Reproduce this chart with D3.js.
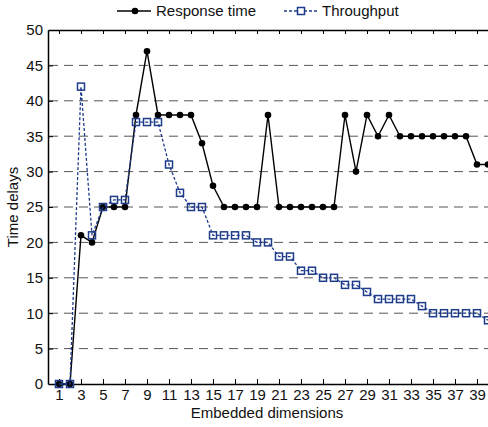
<!DOCTYPE html>
<html>
<head>
<meta charset="utf-8">
<script src="https://cdn.jsdelivr.net/npm/d3@7"></script>
<style>
  body { margin: 0; background: #fff; }
  svg { display: block; font-family: "Liberation Sans", Arial, sans-serif; }
</style>
</head>
<body>
<div class="chart"></div>
<script>
// embedded dimension 1..40
var dims = [1,2,3,4,5,6,7,8,9,10,11,12,13,14,15,16,17,18,19,20,
            21,22,23,24,25,26,27,28,29,30,31,32,33,34,35,36,37,38,39,40];

// response time (black, dots)
var responseTime = [0,0,21,20,25,25,25,38,47,38,38,38,38,34,28,25,25,25,25,38,
                    25,25,25,25,25,25,38,30,38,35,38,35,35,35,35,35,35,35,31,31];

// throughput (blue, dashed, squares)
var throughput = [0,0,42,21,25,26,26,37,37,37,31,27,25,25,21,21,21,21,20,20,
                  18,18,16,16,15,15,14,14,13,12,12,12,12,11,10,10,10,10,10,9];

var xTicks = [1,3,5,7,9,11,13,15,17,19,21,23,25,27,29,31,33,35,37,39];
var yTicks = [0,5,10,15,20,25,30,35,40,45,50];
var seriesNames = ["Response time", "Throughput"];

var w = 488, h = 427;
// plot box (note: "top" is taken by window.top, so use pTop)
var pLeft = 48, pRight = 488, pTop = 30, pBottom = 384;
var blue = "#1f3c8a";

var svg = d3.select(".chart").append("svg")
  .attr("width", w)
  .attr("height", h);

var x = d3.scaleLinear().domain([0, 40]).range([pLeft, pRight]);
var y = d3.scaleLinear().domain([0, 50]).range([pBottom, pTop]);

// dashed horizontal grid
svg.append("g").selectAll("line")
  .data(yTicks.filter(function(d) { return d > 0 && d < 50; }))
  .enter().append("line")
  .attr("x1", pLeft + 1)
  .attr("x2", pRight)
  .attr("y1", function(d) { return y(d); })
  .attr("y2", function(d) { return y(d); })
  .attr("stroke", "#555")
  .attr("stroke-width", 1)
  .attr("stroke-dasharray", "9,6");

// axes, ticks point inward like matlab
var xAxis = svg.append("g")
  .attr("transform", "translate(0," + pBottom + ")")
  .call(d3.axisBottom(x).tickValues(xTicks).tickSizeInner(-5).tickSizeOuter(0).tickPadding(5));

var topAxis = svg.append("g")
  .attr("transform", "translate(0," + pTop + ")")
  .call(d3.axisTop(x).tickValues(xTicks).tickSizeInner(-4).tickSizeOuter(0).tickFormat(""));

var yAxis = svg.append("g")
  .attr("transform", "translate(" + pLeft + ",0)")
  .call(d3.axisLeft(y).tickValues(yTicks).tickSizeInner(-5).tickSizeOuter(0).tickPadding(5));

svg.selectAll(".domain").attr("stroke", "#000").attr("stroke-width", 1.5);
svg.selectAll(".tick line").attr("stroke", "#000");
svg.selectAll(".tick text").attr("font-size", 15).attr("fill", "#111")
  .attr("font-family", "Liberation Sans, Arial, sans-serif");
// no tick marks in the corners
yAxis.selectAll(".tick").filter(function(d) { return d === 0 || d === 50; }).select("line").remove();

// axis titles
svg.append("text")
  .attr("x", 267).attr("y", 418)
  .attr("text-anchor", "middle")
  .attr("font-size", 15)
  .attr("fill", "#111")
  .text("Embedded dimensions");

svg.append("text")
  .attr("transform", "translate(18," + ((pTop + pBottom) / 2) + ") rotate(-90)")
  .attr("text-anchor", "middle")
  .attr("font-size", 15)
  .attr("fill", "#111")
  .text("Time delays");

// lines
var respData = dims.map(function(d, i) { return {x: d, y: responseTime[i]}; });
var thrData = dims.map(function(d, i) { return {x: d, y: throughput[i]}; });

var line = d3.line()
  .x(function(d) { return x(d.x); })
  .y(function(d) { return y(d.y); });

svg.append("path")
  .datum(respData)
  .attr("d", line)
  .attr("fill", "none")
  .attr("stroke", "#000")
  .attr("stroke-width", 1.4);

svg.append("g").selectAll("circle")
  .data(respData)
  .enter().append("circle")
  .attr("cx", function(d) { return x(d.x); })
  .attr("cy", function(d) { return y(d.y); })
  .attr("r", 3.3)
  .attr("fill", "#000");

svg.append("path")
  .datum(thrData)
  .attr("d", line)
  .attr("fill", "none")
  .attr("stroke", blue)
  .attr("stroke-width", 1.3)
  .attr("stroke-dasharray", "3,2");

var sq = 7;
svg.append("g").selectAll("rect")
  .data(thrData)
  .enter().append("rect")
  .attr("x", function(d) { return x(d.x) - sq / 2; })
  .attr("y", function(d) { return y(d.y) - sq / 2; })
  .attr("width", sq)
  .attr("height", sq)
  .attr("fill", "none")
  .attr("stroke", blue)
  .attr("stroke-width", 1.5);

// legend
var lg = svg.append("g");
lg.append("line").attr("x1", 117).attr("x2", 151).attr("y1", 11).attr("y2", 11)
  .attr("stroke", "#000").attr("stroke-width", 1.4);
lg.append("circle").attr("cx", 135).attr("cy", 11).attr("r", 3.3).attr("fill", "#000");
lg.append("text").attr("x", 156).attr("y", 16).attr("font-size", 15).attr("fill", "#111")
  .text(seriesNames[0]);

lg.append("line").attr("x1", 284).attr("x2", 317).attr("y1", 11).attr("y2", 11)
  .attr("stroke", blue).attr("stroke-width", 1.3).attr("stroke-dasharray", "3,2");
lg.append("rect").attr("x", 301 - sq / 2).attr("y", 11 - sq / 2).attr("width", sq).attr("height", sq)
  .attr("fill", "#fff").attr("stroke", blue).attr("stroke-width", 1.5);
lg.append("text").attr("x", 322).attr("y", 16).attr("font-size", 15).attr("fill", "#111")
  .text(seriesNames[1]);
</script>
</body>
</html>
